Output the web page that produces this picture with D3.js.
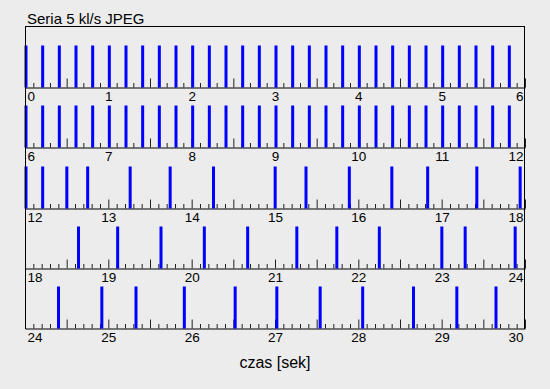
<!DOCTYPE html>
<html>
<head>
<meta charset="utf-8">
<script src="https://cdn.jsdelivr.net/npm/d3@7"></script>
<style>
  html, body { margin: 0; padding: 0; background: #ececec; }
  svg { display: block; }
  text { font-family: "Liberation Sans", Arial, sans-serif; fill: #000; }
</style>
</head>
<body>
<svg id="chart" width="550" height="389"></svg>
<script>
// ---- data (seconds at which a frame was recorded) ----
const title = "Seria 5 kl/s JPEG";
const xLabel = "czas [sek]";
const rowStarts = [0, 6, 12, 18, 24];
const rowSpan = 6;
const row1Times = [0.0, 0.2, 0.4, 0.6, 0.8, 1.0, 1.2, 1.4, 1.6, 1.8, 2.0, 2.2, 2.4, 2.6, 2.8,
                   3.0, 3.2, 3.4, 3.6, 3.8, 4.0, 4.2, 4.4, 4.6, 4.8, 5.0, 5.2, 5.4, 5.6, 5.8];
const row2Times = [6.0, 6.2, 6.4, 6.6, 6.8, 7.0, 7.2, 7.4, 7.6, 7.8, 8.0, 8.2, 8.4, 8.6, 8.8,
                   9.0, 9.2, 9.4, 9.6, 9.8, 10.0, 10.2, 10.4, 10.6, 10.8, 11.0, 11.2, 11.4, 11.6, 11.8];
const row3Times = [12.0, 12.2, 12.49, 12.74, 13.25, 13.73, 14.25, 14.99, 15.36, 15.88, 16.39, 16.82, 17.41, 17.93];
const row4Times = [18.63, 19.10, 19.62, 20.14, 20.66, 21.25, 21.73, 22.24, 22.99, 23.27, 23.87];
const row5Times = [24.39, 24.91, 25.32, 25.90, 26.51, 27.01, 27.53, 28.04, 28.65, 29.17, 29.64];
const frameValue = 1;
const rows = [row1Times, row2Times, row3Times, row4Times, row5Times];

// ---- layout ----
const svg = d3.select("#chart");
const padLeft = 25, padRight = 525, padTop = 26;
const rowH = 60.3;
const axisRows = rows.map((_, i) => Math.round(26.7 + rowH * (i + 1)));
const padBottom = axisRows[axisRows.length - 1];

svg.append("text")
  .attr("x", 27).attr("y", 24)
  .style("font-size", "15px")
  .text(title);

rows.forEach((times, i) => {
  const start = rowStarts[i];
  const ay = axisRows[i] + 0.5;
  const x = d3.scaleLinear().domain([start, start + rowSpan]).range([padLeft, padRight]);
  const y = d3.scaleLinear().domain([0, frameValue]).range([ay, ay - 42]);
  const g = svg.append("g");

  // minor ticks every 0.1 s
  const minor = d3.range(0, 61).map(k => start + k / 10).filter((v, k) => k % 5 !== 0);
  g.append("g")
    .attr("transform", `translate(0,${ay})`)
    .call(d3.axisBottom(x).tickValues(minor).tickSizeInner(-4.5).tickSizeOuter(0).tickFormat(""))
    .call(s => s.select(".domain").remove())
    .call(s => s.selectAll("line").attr("stroke", "#222"));

  // major ticks every 0.5 s, labels every 1 s
  const major = d3.range(0, 13).map(k => start + k / 2);
  const ax = g.append("g")
    .attr("transform", `translate(0,${ay})`)
    .call(d3.axisBottom(x).tickValues(major).tickSizeInner(-9).tickSizeOuter(0).tickPadding(4)
      .tickFormat(v => Number.isInteger(v) ? String(v) : ""));
  ax.selectAll("line").attr("stroke", "#222");
  ax.select(".domain").attr("stroke", "#000");
  ax.selectAll("text").style("font-size", "13.5px").attr("fill", "#000")
    .each(function (v) {
      if (v === start) d3.select(this).attr("text-anchor", "start").attr("x", 2);
      else if (v === start + rowSpan) d3.select(this).attr("text-anchor", "end").attr("x", -2);
    });

  // frames
  g.selectAll("rect.bar").data(times).join("rect")
    .attr("class", "bar")
    .attr("x", d => x(d) - 0.5)
    .attr("width", 3)
    .attr("y", y(frameValue))
    .attr("height", y(0) - y(frameValue))
    .attr("fill", "#0000ff");
});

// frame: top, left, right lines
svg.append("line").attr("x1", padLeft).attr("x2", padRight - 0.5).attr("y1", padTop + 0.5).attr("y2", padTop + 0.5).attr("stroke", "#000");
svg.append("line").attr("x1", padLeft + 0.5).attr("x2", padLeft + 0.5).attr("y1", padTop).attr("y2", padBottom + 1).attr("stroke", "#000");
svg.append("line").attr("x1", padRight - 0.5).attr("x2", padRight - 0.5).attr("y1", padTop).attr("y2", padBottom + 1).attr("stroke", "#000");

svg.append("text")
  .attr("x", 275).attr("y", 368)
  .attr("text-anchor", "middle")
  .style("font-size", "16px")
  .text(xLabel);
</script>
</body>
</html>
